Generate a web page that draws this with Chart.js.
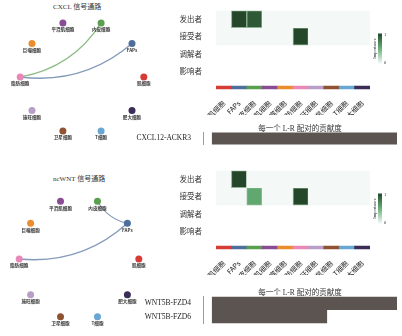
<!DOCTYPE html>
<html>
<head>
<meta charset="utf-8">
<script src="https://cdn.jsdelivr.net/npm/chart.js@4/dist/chart.umd.min.js"></script>
<style>
  html, body { margin: 0; padding: 0; background: #fff; }
  #page { position: relative; width: 402px; height: 336px; overflow: hidden;
          font-family: "Liberation Serif", "Noto Sans CJK SC", serif; }
  .box { position: absolute; }
  .box canvas { display: block; }
  .title { position: absolute; font-size: 7px; line-height: 8px; color: #333; white-space: nowrap; }
</style>
</head>
<body>
<div id="page">
  <div class="title" style="left:53px;top:3px">CXCL 信号通路</div>
  <div class="box" style="left:0;top:0;width:164px;height:154px"><canvas id="netCxcl"></canvas></div>
  <div class="box" style="left:180px;top:0;width:222px;height:115px"><canvas id="heatCxcl"></canvas></div>
  <div class="box" style="left:130px;top:124px;width:272px;height:29px"><canvas id="barCxcl"></canvas></div>

  <div class="title" style="left:53px;top:175px">ncWNT 信号通路</div>
  <div class="box" style="left:0;top:182px;width:158px;height:154px"><canvas id="netWnt"></canvas></div>
  <div class="box" style="left:180px;top:160px;width:222px;height:115px"><canvas id="heatWnt"></canvas></div>
  <div class="box" style="left:130px;top:288px;width:272px;height:44px"><canvas id="barWnt"></canvas></div>
</div>
<script>
// cell groups, in circle / column order
const cellTypes = ['肌细胞', 'FAPs', '内皮细胞', '平滑肌细胞', '巨噬细胞', '脂肪细胞', '施旺细胞', '卫星细胞', 'T细胞', '肥大细胞'];
const cellColors = ['#d63c35', '#4e6f9c', '#5a9f4f', '#8a4b95', '#ea8d2f', '#e987b6', '#b99ec7', '#8f5332', '#68a6d4', '#3b2d58'];
const roleLabels = ['发出者', '接受者', '调解者', '影响者'];

// CXCL pathway
const cxclSender   = [0, 1, 0.92, 0, 0, 0, 0, 0, 0, 0];
const cxclReceiver = [0, 0, 0, 0, 0, 1, 0, 0, 0, 0];
const cxclMediator   = [null, null, null, null, null, null, null, null, null, null];
const cxclInfluencer = [null, null, null, null, null, null, null, null, null, null];
const cxclEdges = [['FAPs', '脂肪细胞', 1], ['内皮细胞', '脂肪细胞', 0.92]];
const cxclPairs = ['CXCL12-ACKR3'];
const cxclContribution = [1];

// ncWNT pathway
const wntSender   = [0, 1, 0, 0, 0, 0, 0, 0, 0, 0];
const wntReceiver = [0, 0, 0.55, 0, 0, 1, 0, 0, 0, 0];
const wntMediator   = [null, null, null, null, null, null, null, null, null, null];
const wntInfluencer = [null, null, null, null, null, null, null, null, null, null];
const wntEdges = [['FAPs', '内皮细胞', 0.55], ['FAPs', '脂肪细胞', 1]];
const wntPairs = ['WNT5B-FZD4', 'WNT5B-FZD6'];
const wntContribution = [1, 0.62];

const serif = '"Liberation Serif", "Noto Sans CJK SC", serif';
const cjk = '"Noto Sans CJK SC", sans-serif';

// white -> green colour ramp for importance
const greenStops = [[0, [244, 249, 247]], [0.5, [104, 178, 120]], [1, [36, 71, 42]]];
function greens(v) {
  let k = 1;
  while (k < greenStops.length - 1 && v > greenStops[k][0]) k++;
  const [a, ca] = greenStops[k - 1], [b, cb] = greenStops[k];
  const t = (v - a) / (b - a);
  const c = ca.map((x, i) => Math.round(x + (cb[i] - x) * t));
  return `rgb(${c[0]},${c[1]},${c[2]})`;
}

function withAlpha(hex, a) {
  const n = parseInt(hex.slice(1), 16);
  return `rgba(${n >> 16},${(n >> 8) & 255},${n & 255},${a})`;
}

// nodes placed evenly on a circle, counter-clockwise from the right
const nodePos = cellTypes.map((c, i) => {
  const t = i * 2 * Math.PI / cellTypes.length;
  return { x: Math.cos(t), y: Math.sin(t) };
});

const netPlugin = {
  id: 'netEdges',
  beforeDatasetsDraw(chart, args, opts) {
    const { ctx, scales: { x, y } } = chart;
    ctx.save();
    opts.edges.forEach(([from, to, w]) => {
      const i = cellTypes.indexOf(from), j = cellTypes.indexOf(to);
      const x0 = x.getPixelForValue(nodePos[i].x), y0 = y.getPixelForValue(nodePos[i].y);
      const x1 = x.getPixelForValue(nodePos[j].x), y1 = y.getPixelForValue(nodePos[j].y);
      const dx = x1 - x0, dy = y1 - y0;
      const cx = (x0 + x1) / 2 + 0.22 * dy, cy = (y0 + y1) / 2 - 0.22 * dx;
      ctx.strokeStyle = withAlpha(cellColors[i], 0.7);
      ctx.lineWidth = 0.7 + 0.6 * w;
      ctx.beginPath();
      ctx.moveTo(x0, y0);
      ctx.quadraticCurveTo(cx, cy, x1, y1);
      ctx.stroke();
    });
    ctx.restore();
  },
  afterDatasetsDraw(chart) {
    const { ctx, scales: { x, y } } = chart;
    ctx.save();
    ctx.font = 'bold 4.6px ' + cjk;
    ctx.fillStyle = '#3a3a3a';
    ctx.textAlign = 'center';
    ctx.textBaseline = 'middle';
    cellTypes.forEach((c, i) => {
      ctx.fillText(c, x.getPixelForValue(nodePos[i].x), y.getPixelForValue(nodePos[i].y) + 6.5);
    });
    ctx.restore();
  }
};

function makeNetwork(id, edges, xr, yr) {
  new Chart(document.getElementById(id), {
    type: 'scatter',
    data: {
      datasets: [{
        data: nodePos,
        pointRadius: 3.5,
        pointBackgroundColor: cellColors,
        pointBorderWidth: 0
      }]
    },
    options: {
      animation: false,
      responsive: true,
      maintainAspectRatio: false,
      plugins: { legend: { display: false }, tooltip: { enabled: false }, netEdges: { edges } },
      scales: {
        x: { display: false, min: -xr, max: xr },
        y: { display: false, min: -yr, max: yr }
      }
    },
    plugins: [netPlugin]
  });
}

// vertical importance colour key next to the heatmap
const keyPlugin = {
  id: 'importanceKey',
  afterDraw(chart) {
    const { ctx, chartArea } = chart;
    const x = chartArea.right + 8, top = chartArea.top + 23, h = 30;
    ctx.save();
    const g = ctx.createLinearGradient(0, top + h, 0, top);
    [0, 0.25, 0.5, 0.75, 1].forEach(v => g.addColorStop(v, greens(v)));
    ctx.fillStyle = g;
    ctx.fillRect(x, top, 4, h);
    ctx.fillStyle = '#333';
    ctx.font = '4.5px ' + serif;
    ctx.textBaseline = 'middle';
    ctx.fillText('1', x + 6, top + 1);
    ctx.fillText('0', x + 6, top + h - 1);
    ctx.translate(x - 3, top + h / 2);
    ctx.rotate(-Math.PI / 2);
    ctx.textAlign = 'center';
    ctx.fillText('Importance', 0, 0);
    ctx.restore();
  }
};

function makeHeatmap(id, roles) {
  const cell = { grouped: false, barPercentage: 1, categoryPercentage: 1, borderSkipped: false };
  const datasets = roles.map((vals, r) => Object.assign({
    data: vals.map(v => v == null ? null : [r, r + 1]),
    backgroundColor: vals.map(v => greens(v || 0)),
    borderColor: vals.map(v => v > 0 ? '#8db393' : 'rgba(0,0,0,0)'),
    borderWidth: vals.map(v => v > 0 ? 1 : 0)
  }, cell));
  // cell-group colour strip under the rows
  datasets.push(Object.assign({
    data: cellTypes.map(() => [4.38, 4.54]),
    backgroundColor: cellColors,
    borderWidth: 0
  }, cell));

  new Chart(document.getElementById(id), {
    type: 'bar',
    data: { labels: cellTypes, datasets },
    options: {
      animation: false,
      responsive: true,
      maintainAspectRatio: false,
      layout: { padding: { top: 5, right: 32 } },
      plugins: { legend: { display: false }, tooltip: { enabled: false } },
      scales: {
        x: {
          grid: { display: false },
          border: { display: false },
          ticks: { autoSkip: false, maxRotation: 45, minRotation: 45, padding: 1,
                   color: '#222', font: { family: cjk, size: 7 } },
          afterFit(s) { s.height = 25; }
        },
        y: {
          min: 0, max: 4.6, reverse: true,
          grid: { display: false },
          border: { display: false },
          afterBuildTicks(s) { s.ticks = [0.5, 1.5, 2.5, 3.5].map(v => ({ value: v })); },
          ticks: { padding: 6, color: '#333', font: { family: cjk, size: 7.5 },
                   callback: v => roleLabels[Math.floor(v)] },
          afterFit(s) { s.width = 36; }
        }
      }
    },
    plugins: [keyPlugin]
  });
}

function makeBars(id, pairs, values) {
  new Chart(document.getElementById(id), {
    type: 'bar',
    data: {
      labels: pairs,
      datasets: [{ data: values, backgroundColor: '#5c5450', barThickness: 13 }]
    },
    options: {
      indexAxis: 'y',
      animation: false,
      responsive: true,
      maintainAspectRatio: false,
      layout: { padding: { right: 5 } },
      plugins: {
        legend: { display: false },
        tooltip: { enabled: false },
        title: {
          display: true, fullSize: false, text: '每一个 L-R 配对的贡献度',
          color: '#333', padding: 0,
          font: { family: serif, size: 7.5, weight: 'normal', lineHeight: 1 }
        }
      },
      scales: {
        x: { display: false, min: -0.05, max: 1 },
        y: {
          grid: { display: false },
          border: { display: true, color: '#9c9c9c', width: 1 },
          ticks: { padding: 4, color: '#222', font: { family: serif, size: 7.5 } },
          afterFit(s) { s.width = 73; }
        }
      }
    }
  });
}

makeNetwork('netCxcl', cxclEdges, 1.262, 1.283);
makeHeatmap('heatCxcl', [cxclSender, cxclReceiver, cxclMediator, cxclInfluencer]);
makeBars('barCxcl', cxclPairs, cxclContribution);

makeNetwork('netWnt', wntEdges, 1.254, 1.203);
makeHeatmap('heatWnt', [wntSender, wntReceiver, wntMediator, wntInfluencer]);
makeBars('barWnt', wntPairs, wntContribution);
</script>
</body>
</html>
